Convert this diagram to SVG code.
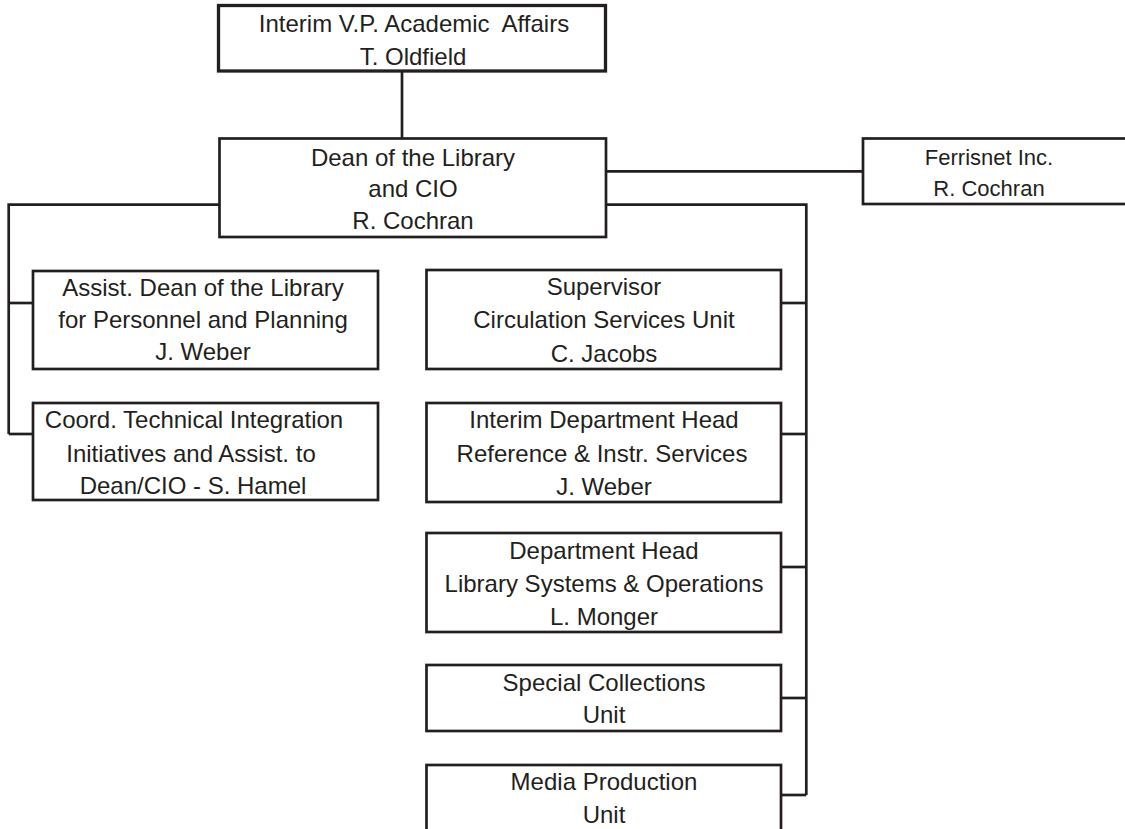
<svg xmlns="http://www.w3.org/2000/svg" width="1125" height="829" viewBox="0 0 1125 829">
<style>
.box{fill:#fff;stroke:#231f20;stroke-width:2.7}
.top{stroke-width:3.3}
.c{fill:none;stroke:#231f20;stroke-width:2.7}
text{font-family:"Liberation Sans",Arial,sans-serif;font-size:24px;fill:#231f20;text-anchor:middle;white-space:pre}
.sm{font-size:22px}
</style>
<rect width="1125" height="829" fill="#fff"/>
<g id="connectors">
<line class="c" x1="402" y1="71" x2="402" y2="138.5"/>
<line class="c" x1="606" y1="171.3" x2="863" y2="171.3"/>
<polyline class="c" points="219.5,204.7 8.7,204.7 8.7,434"/>
<line class="c" x1="8.7" y1="303" x2="33" y2="303"/>
<line class="c" x1="8.7" y1="434" x2="33" y2="434"/>
<polyline class="c" points="606,204.7 806.3,204.7 806.3,795"/>
<line class="c" x1="781" y1="303" x2="806.3" y2="303"/>
<line class="c" x1="781" y1="434" x2="806.3" y2="434"/>
<line class="c" x1="781" y1="567" x2="806.3" y2="567"/>
<line class="c" x1="781" y1="698" x2="806.3" y2="698"/>
<line class="c" x1="781" y1="795" x2="806.3" y2="795"/>
</g>
<g id="vp">
<rect class="box top" x="218.5" y="5.5" width="387" height="65.5"/>
<text x="414" y="32">Interim V.P. Academic  Affairs</text>
<text x="413" y="65">T. Oldfield</text>
</g>
<g id="dean">
<rect class="box" x="219.5" y="138.5" width="386.5" height="98.5"/>
<text x="413" y="166">Dean of the Library</text>
<text x="413" y="197">and CIO</text>
<text x="413" y="229">R. Cochran</text>
</g>
<g id="ferrisnet">
<rect class="box" x="863" y="138.5" width="270" height="65.5"/>
<text class="sm" x="989" y="165">Ferrisnet Inc.</text>
<text class="sm" x="989" y="196">R. Cochran</text>
</g>
<g id="assist">
<rect class="box" x="33" y="271" width="345" height="98"/>
<text x="203" y="296">Assist. Dean of the Library</text>
<text x="203" y="328">for Personnel and Planning</text>
<text x="203" y="360">J. Weber</text>
</g>
<g id="coord">
<rect class="box" x="33" y="403" width="345" height="97"/>
<text x="194" y="428">Coord. Technical Integration</text>
<text x="191" y="462">Initiatives and Assist. to</text>
<text x="193" y="494">Dean/CIO - S. Hamel</text>
</g>
<g id="supervisor">
<rect class="box" x="426.5" y="270" width="354.5" height="99"/>
<text x="604" y="295">Supervisor</text>
<text x="604" y="328">Circulation Services Unit</text>
<text x="604" y="362">C. Jacobs</text>
</g>
<g id="reference">
<rect class="box" x="426.5" y="403" width="354.5" height="99"/>
<text x="604" y="428">Interim Department Head</text>
<text x="602" y="462">Reference &amp; Instr. Services</text>
<text x="604" y="495">J. Weber</text>
</g>
<g id="systems">
<rect class="box" x="426.5" y="533" width="354.5" height="99"/>
<text x="604" y="559">Department Head</text>
<text x="604" y="592">Library Systems &amp; Operations</text>
<text x="604" y="625">L. Monger</text>
</g>
<g id="special">
<rect class="box" x="426.5" y="665" width="354.5" height="66"/>
<text x="604" y="691">Special Collections</text>
<text x="604" y="723">Unit</text>
</g>
<g id="media">
<rect class="box" x="426.5" y="765" width="354.5" height="80"/>
<text x="604" y="790">Media Production</text>
<text x="604" y="823">Unit</text>
</g>
</svg>
